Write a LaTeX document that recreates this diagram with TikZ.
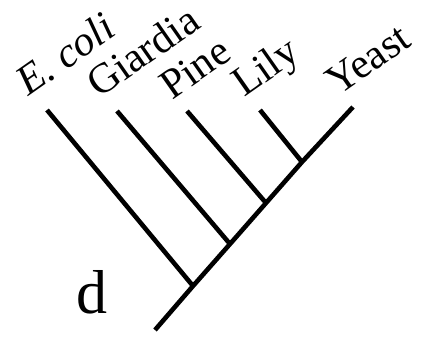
\documentclass[tikz,border=0pt]{standalone}
\usepackage{fontspec}
\setmainfont{Liberation Serif}

\begin{document}
\begin{tikzpicture}[
            x=1pt, y=-1pt,
            branch/.style={line width=4.6pt},
            taxon/.style ={rotate=35, anchor=base west, inner sep=0pt,
                           font=\fontsize{42}{48}\selectfont},
            tag/.style   ={anchor=base west, inner sep=0pt,
                           font=\fontsize{62}{70}\selectfont}
        ]
        \useasboundingbox (0,0) rectangle (429,337);

        \coordinate (root)   at (155,330);
        \coordinate (j1)     at (193,286);
        \coordinate (j2)     at (230,244);
        \coordinate (j3)     at (266,203);
        \coordinate (j4)     at (302,162);
        \coordinate (ecoli)  at (47,110);
        \coordinate (giard)  at (117,111);
        \coordinate (pine)   at (187,111);
        \coordinate (lily)   at (260,110);
        \coordinate (yeast)  at (353,107);

        \node[taxon] (lecoli) at (28,97) {\itshape E. coli};
        \node[taxon] (lgiard) at (99,99) {Giardia};
        \node[taxon] (lpine)  at (172,101) {Pine};
        \node[taxon] (llily)  at (244,98) {Lily};
        \node[taxon] (lyeast) at (338,97) {Yeast};
        \node[tag]   (d)      at (76,313) {d};

        \draw[branch] (root)  -- (j1) -- (j2) -- (j3) -- (j4) -- (yeast);
        \draw[branch] (ecoli) -- (j1);
        \draw[branch] (giard) -- (j2);
        \draw[branch] (pine)  -- (j3);
        \draw[branch] (lily)  -- (j4);
        \end{tikzpicture}
\end{document}
